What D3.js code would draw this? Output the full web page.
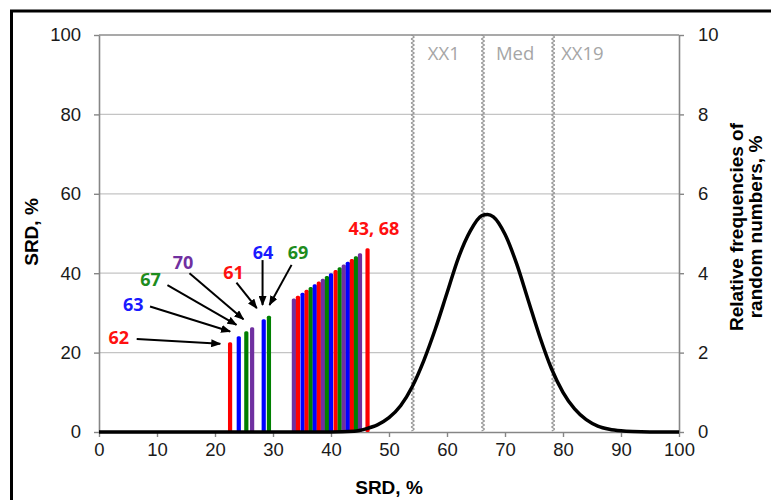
<!DOCTYPE html>
<html>
<head>
<meta charset="utf-8">
<script src="https://cdn.jsdelivr.net/npm/d3@7"></script>
<style>
  body { margin: 0; background: #fff; }
  svg { display: block; }
</style>
</head>
<body>
<div id="chart"></div>
<script>
// SRD of each sample (bar position = bar height, SRD vs SRD)
const srdValues = [22.6, 24.1, 25.4, 26.4, 28.4, 29.3,
  33.6, 34.3, 35.1, 35.8, 36.5, 37.2, 37.9, 38.6, 39.3, 40.0, 40.8, 41.5, 42.2, 42.9, 43.6, 44.3, 45.0,
  46.3]
const barColorNames = ["red", "blue", "green", "purple", "blue", "green",
  "purple", "red", "blue", "red", "green", "blue", "red", "purple", "green", "blue", "red", "green", "purple", "blue", "red", "green", "purple",
  "red"]

// distribution of random numbers (right axis, %)
const curveSRD  = [0, 40, 44, 46, 48, 50, 52, 54, 56, 58, 60, 62, 64, 66, 67, 68, 70, 72, 74, 76, 78, 80, 82, 84, 86, 88, 90, 92, 95, 100]
const curveFreq = [0, 0, 0.02, 0.08, 0.18, 0.36, 0.66, 1.14, 1.8, 2.6, 3.5, 4.4, 5.06, 5.45, 5.48, 5.42, 4.98, 4.24, 3.32, 2.4, 1.6, 1.0, 0.58, 0.31, 0.15, 0.07, 0.03, 0.01, 0, 0]

// XX1 / median / XX19 of the random numbers
const markerNames = ["XX1", "Med", "XX19"]
const markerSRD = [54.1, 66.2, 78.3]

// labelled samples
const annotTexts = ["62", "63", "67", "70", "61", "64", "69", "43, 68"]
const annotColorNames = ["red", "blue", "green", "purple", "red", "blue", "green", "red"]

const leftTicks = [0, 20, 40, 60, 80, 100]
const rightTicks = [0, 2, 4, 6, 8, 10]
const bottomTicks = [0, 10, 20, 30, 40, 50, 60, 70, 80, 90, 100]

const palette = { red: "#ff0000", blue: "#0000ff", green: "#008000", purple: "#7030a0" }
const textPalette = { red: "#ff1010", blue: "#1a1aff", green: "#1e8c1e", purple: "#7030a0" }

const width = 771
const height = 500
const plotLeft = 99, plotRight = 679, plotTop = 35, plotBottom = 432

const xScale = d3.scaleLinear().domain([0, 100]).range([plotLeft, plotRight])
const yScale = d3.scaleLinear().domain([0, 100]).range([plotBottom, plotTop])
const y2Scale = d3.scaleLinear().domain([0, 10]).range([plotBottom, plotTop])

const svg = d3.select("#chart").append("svg")
    .attr("width", width)
    .attr("height", height)

svg.append("defs").append("marker")
    .attr("id", "arrow")
    .attr("viewBox", "0 0 10 8")
    .attr("refX", 9)
    .attr("refY", 4)
    .attr("markerWidth", 10)
    .attr("markerHeight", 8)
    .attr("markerUnits", "userSpaceOnUse")
    .attr("orient", "auto")
  .append("path")
    .attr("d", "M0,0 L10,4 L0,8 Z")
    .attr("fill", "#000")

// outer frame
svg.append("rect")
    .attr("x", 11.5).attr("y", 11)
    .attr("width", 800).attr("height", 520)
    .attr("fill", "none")
    .attr("stroke", "#000")
    .attr("stroke-width", 3)

// gridlines
svg.append("g")
    .selectAll("line")
    .data(leftTicks.slice(1))
    .join("line")
    .attr("x1", plotLeft).attr("x2", plotRight)
    .attr("y1", d => yScale(d)).attr("y2", d => yScale(d))
    .attr("stroke", d => d === 100 ? "#8c8c8c" : "#c4c4c4")
    .attr("stroke-width", d => d === 100 ? 1.5 : 1.2)

// wavy marker lines
markerSRD.forEach((m, i) => {
    const x0 = xScale(m)
    const pts = []
    let k = 0
    for (let y = plotTop; y <= plotBottom; y += 2) {
        pts.push([x0 + (k % 2 ? 1.4 : -1.4), y])
        k++
    }
    svg.append("path")
        .attr("d", d3.line().curve(d3.curveCatmullRom)(pts))
        .attr("fill", "none")
        .attr("stroke", "#959595")
        .attr("stroke-width", 1.3)
})
const markerLabelDx = [15, 13, 8]
svg.append("g")
    .selectAll("text")
    .data(markerNames)
    .join("text")
    .attr("x", (d, i) => xScale(markerSRD[i]) + markerLabelDx[i])
    .attr("y", 60)
    .attr("font-family", "'Open Sans', sans-serif")
    .attr("font-size", 18.5)
    .attr("fill", "#a6a6a6")
    .text(d => d)

// axes
const axisFont = "'Liberation Sans', Arial, sans-serif"
function styleAxis(g) {
    g.select(".domain").attr("stroke", "#868686").attr("stroke-width", 1.6)
    g.selectAll(".tick line").attr("stroke", "#868686").attr("stroke-width", 1.4)
    g.selectAll(".tick text").attr("font-family", axisFont).attr("font-size", 18.5).attr("fill", "#1a1a1a")
}

svg.append("g")
    .attr("transform", "translate(" + plotLeft + ",0)")
    .call(d3.axisLeft(yScale).tickValues(leftTicks).tickSize(5).tickPadding(13).tickSizeOuter(0))
    .call(styleAxis)

svg.append("g")
    .attr("transform", "translate(" + plotRight + ",0)")
    .call(d3.axisRight(y2Scale).tickValues(rightTicks).tickSize(5).tickPadding(14).tickSizeOuter(0))
    .call(styleAxis)

svg.append("g")
    .attr("transform", "translate(0," + plotBottom + ")")
    .call(d3.axisBottom(xScale).tickValues(bottomTicks).tickSize(5).tickPadding(6).tickSizeOuter(0))
    .call(styleAxis)

// bars
svg.append("g")
    .selectAll("rect")
    .data(srdValues)
    .join("rect")
    .attr("x", d => xScale(d) - 2.1)
    .attr("width", 4.2)
    .attr("y", d => yScale(d))
    .attr("height", d => yScale(0) - yScale(d))
    .attr("rx", 1.5)
    .attr("fill", (d, i) => palette[barColorNames[i]])

// distribution curve
const curveData = curveSRD.map((d, i) => [d, curveFreq[i]])
svg.append("path")
    .datum(curveData)
    .attr("d", d3.line()
        .x(d => xScale(d[0]))
        .y(d => y2Scale(d[1]))
        .curve(d3.curveMonotoneX))
    .attr("fill", "none")
    .attr("stroke", "#000")
    .attr("stroke-width", 3.5)

// annotations: label centre and arrow, in axis units
const annotLayout = [
    { lx: 3.4,  ly: 23.8, a: [6.5, 23.4, 20.9, 22.2] },
    { lx: 5.9,  ly: 32.0, a: [8.8, 31.6, 22.6, 25.3] },
    { lx: 8.9,  ly: 38.4, a: [11.8, 37.0, 23.7, 27.0] },
    { lx: 14.5, ly: 42.8, a: [15.6, 40.0, 24.9, 28.4] },
    { lx: 23.2, ly: 40.2, a: [23.7, 37.6, 27.2, 31.2] },
    { lx: 28.3, ly: 45.1, a: [28.2, 43.3, 28.2, 32.0] },
    { lx: 34.3, ly: 45.1, a: [33.2, 42.1, 29.4, 32.0] },
    { lx: 47.4, ly: 51.3, a: null }
]

svg.append("g")
    .selectAll("line")
    .data(annotLayout.filter(d => d.a))
    .join("line")
    .attr("x1", d => xScale(d.a[0])).attr("y1", d => yScale(d.a[1]))
    .attr("x2", d => xScale(d.a[2])).attr("y2", d => yScale(d.a[3]))
    .attr("stroke", "#000")
    .attr("stroke-width", 2)
    .attr("marker-end", "url(#arrow)")

svg.append("g")
    .selectAll("text")
    .data(annotTexts)
    .join("text")
    .attr("x", (d, i) => xScale(annotLayout[i].lx))
    .attr("y", (d, i) => yScale(annotLayout[i].ly) + 6.5)
    .attr("text-anchor", "middle")
    .attr("font-family", "'Open Sans', sans-serif")
    .attr("font-weight", "bold")
    .attr("font-size", 18)
    .attr("fill", (d, i) => textPalette[annotColorNames[i]])
    .text(d => d)

// axis titles
svg.append("text")
    .attr("x", (plotLeft + plotRight) / 2)
    .attr("y", 494)
    .attr("text-anchor", "middle")
    .attr("font-family", axisFont)
    .attr("font-weight", "bold")
    .attr("font-size", 19)
    .text("SRD, %")

svg.append("text")
    .attr("transform", "translate(38," + 232 + ") rotate(-90)")
    .attr("text-anchor", "middle")
    .attr("font-family", axisFont)
    .attr("font-weight", "bold")
    .attr("font-size", 19)
    .text("SRD, %")

const rightTitle = svg.append("text")
    .attr("transform", "translate(743," + 227 + ") rotate(-90)")
    .attr("text-anchor", "middle")
    .attr("font-family", axisFont)
    .attr("font-weight", "bold")
    .attr("font-size", 19)
rightTitle.append("tspan").attr("x", 0).attr("dy", 0).text("Relative frequencies of")
rightTitle.append("tspan").attr("x", 0).attr("dy", 19).text("random numbers, %")
</script>
</body>
</html>
